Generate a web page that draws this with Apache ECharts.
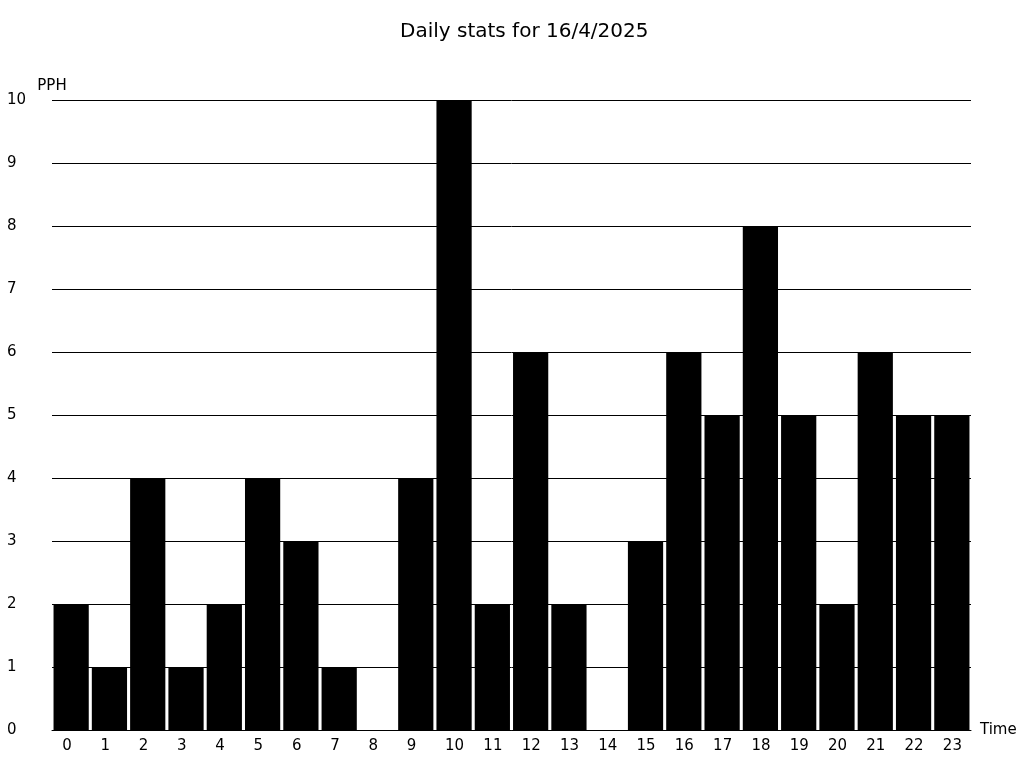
<!DOCTYPE html>
<html><head><meta charset="utf-8">
<script src="https://cdn.jsdelivr.net/npm/echarts@6/dist/echarts.min.js"></script>
<style>html,body{margin:0;padding:0;background:#fff}#c{width:1024px;height:768px}</style>
</head><body><div id="c"></div>
<script>
const categories = ['0','1','2','3','4','5','6','7','8','9','10','11','12','13','14','15','16','17','18','19','20','21','22','23'];
const values = [2,1,4,1,2,4,3,1,0,4,10,2,6,2,0,3,6,5,8,5,2,6,5,5];
const titleText = 'Daily stats for 16/4/2025';
const chart = echarts.init(document.getElementById('c'), null, {renderer:'canvas'});
const font = 'DejaVu Sans';
chart.setOption({
  animation:false,
  backgroundColor:'#fff',
  title:{text:titleText,left:395,top:17,textStyle:{fontFamily:font,fontSize:20,fontWeight:'normal',color:'#000'}},
  grid:{left:52,right:53,top:100,bottom:38,containLabel:false},
  xAxis:{type:'category',data:categories,name:'Time',nameLocation:'end',nameGap:9,
    nameTextStyle:{fontFamily:font,fontSize:15,color:'#000',verticalAlign:'middle',padding:[2,0,0,0]},
    axisLine:{show:true,lineStyle:{color:'#000',width:1}},axisTick:{show:false},
    axisLabel:{interval:0,fontFamily:font,fontSize:15,color:'#000',margin:9,
      formatter:function(v){return '{a|'+v+'}';},
      rich:{a:{width:18,align:'left',fontFamily:font,fontSize:15,color:'#000'}}}},
  yAxis:{type:'value',min:0,max:10,interval:1,name:'PPH',nameGap:6,
    nameTextStyle:{fontFamily:font,fontSize:15,color:'#000',align:'center'},
    axisLine:{show:false},axisTick:{show:false},
    axisLabel:{fontFamily:font,fontSize:15,color:'#000',align:'left',margin:45,padding:[4,0,0,0]},
    splitLine:{show:true,lineStyle:{color:'#000',width:1}}},
  series:[{type:'bar',data:values,barCategoryGap:'8%',itemStyle:{color:'#000'}}]
});
</script></body></html>
